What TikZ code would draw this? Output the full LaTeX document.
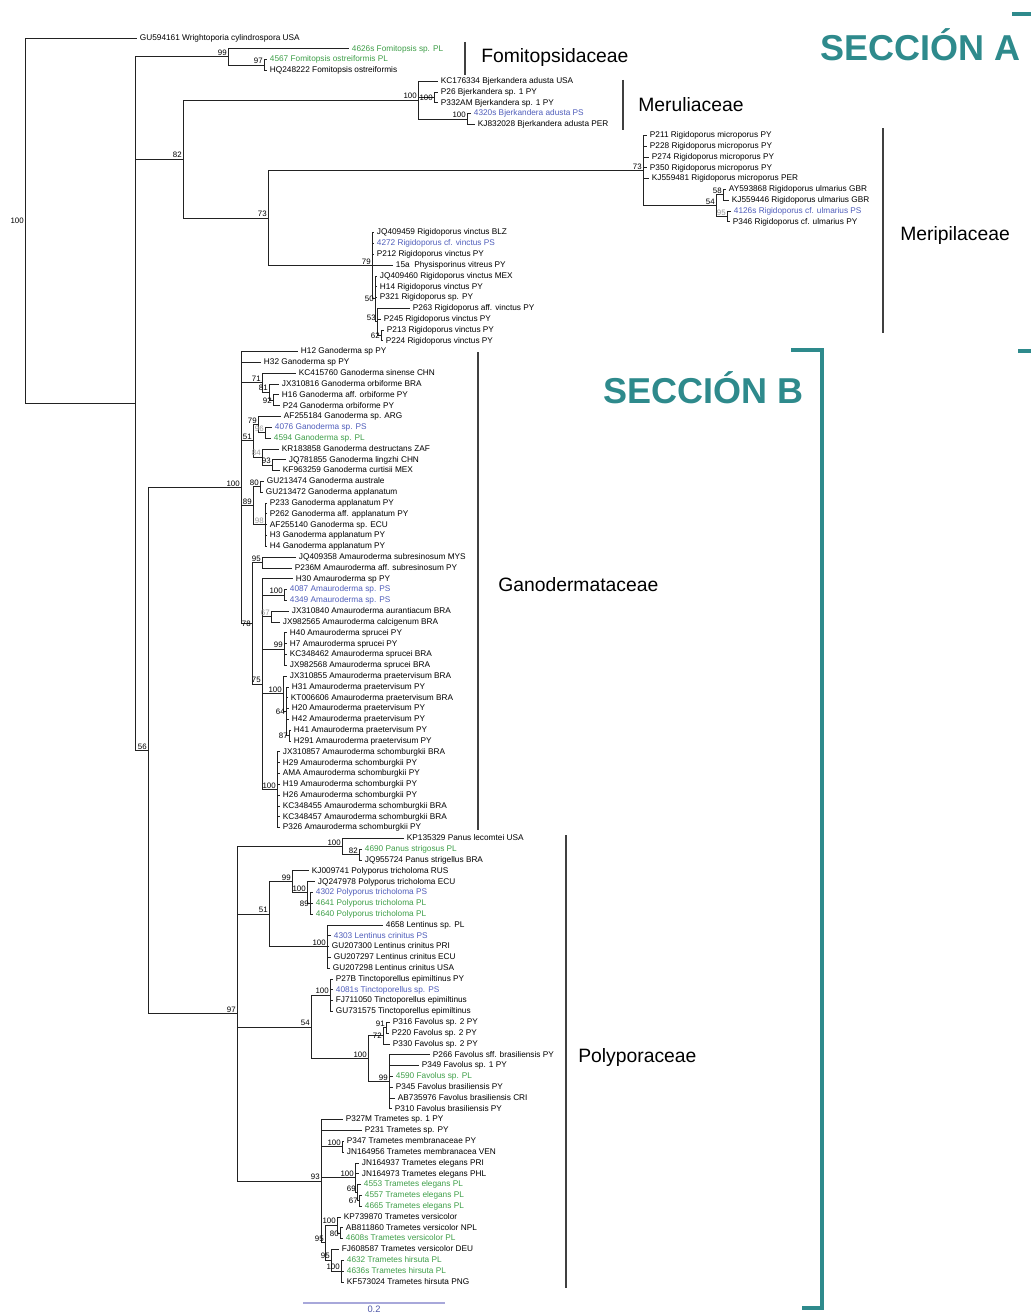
\documentclass[tikz,border=0pt]{standalone}
\usepackage{fontspec}
\setmainfont{Liberation Sans}
\usepackage{tikz}
\definecolor{seccteal}{HTML}{2E8A8C}
\definecolor{isoblue}{HTML}{4F5DBA}
\definecolor{isogreen}{HTML}{3E9E48}
\definecolor{branchgray}{HTML}{222222}
\definecolor{scalelav}{HTML}{A8A8DA}
\definecolor{scaletext}{HTML}{5058A8}

\begin{document}
\begin{tikzpicture}[x=0.75pt, y=-0.75pt,
          taxon/.style={anchor=west, inner xsep=2pt, inner ysep=0pt, text height=4.7pt,
                        text depth=1.3pt, font=\fontsize{6.2}{7}\selectfont},
          taxonPS/.style={taxon, text=isoblue},
          taxonPL/.style={taxon, text=isogreen},
          supp/.style={anchor=south east, inner sep=0.8pt, font=\fontsize{5.9}{6}\selectfont},
          suppl/.style={supp, anchor=east},
          suppg/.style={supp, text=black!40},
          branch/.style={draw=branchgray, line width=0.7pt},
          famline/.style={draw=black!75, line width=1.1pt},
          family/.style={anchor=west, inner sep=0pt, font=\fontsize{14.5}{16}\selectfont},
          seccion/.style={anchor=west, inner sep=0pt, text=seccteal,
                          font=\fontsize{27}{30}\selectfont\bfseries},
          secbar/.style={draw=seccteal, line width=3.5pt}
        ]
        \useasboundingbox (0,0) rectangle (1031,1313);

        \begin{scope}[y=-8.11275pt, yshift=-20.387pt]
        \node[taxon]   (L1)   at (137,1)   {GU594161 Wrightoporia cylindrospora USA};
        \node[taxonPL] (L2)   at (349,2)   {4626s Fomitopsis sp. PL};
        \node[taxonPL] (L3)   at (267,3)   {4567 Fomitopsis ostreiformis PL};
        \node[taxon]   (L4)   at (267,4)   {HQ248222 Fomitopsis ostreiformis};
        \node[taxon]   (L5)   at (438,5)   {KC176334 Bjerkandera adusta USA};
        \node[taxon]   (L6)   at (438,6)   {P26 Bjerkandera sp. 1 PY};
        \node[taxon]   (L7)   at (438,7)   {P332AM Bjerkandera sp. 1 PY};
        \node[taxonPS] (L8)   at (471,8)   {4320s Bjerkandera adusta PS};
        \node[taxon]   (L9)   at (475,9)   {KJ832028 Bjerkandera adusta PER};
        \node[taxon]   (L10)  at (647,10)  {P211 Rigidoporus microporus PY};
        \node[taxon]   (L11)  at (647,11)  {P228 Rigidoporus microporus PY};
        \node[taxon]   (L12)  at (649,12)  {P274 Rigidoporus microporus PY};
        \node[taxon]   (L13)  at (647,13)  {P350 Rigidoporus microporus PY};
        \node[taxon]   (L14)  at (649,14)  {KJ559481 Rigidoporus microporus PER};
        \node[taxon]   (L15)  at (726,15)  {AY593868 Rigidoporus ulmarius GBR};
        \node[taxon]   (L16)  at (729,16)  {KJ559446 Rigidoporus ulmarius GBR};
        \node[taxonPS] (L17)  at (731,17)  {4126s Rigidoporus cf. ulmarius PS};
        \node[taxon]   (L18)  at (730,18)  {P346 Rigidoporus cf. ulmarius PY};
        \node[taxon]   (L19)  at (374,19)  {JQ409459 Rigidoporus vinctus BLZ};
        \node[taxonPS] (L20)  at (374,20)  {4272 Rigidoporus cf. vinctus PS};
        \node[taxon]   (L21)  at (374,21)  {P212 Rigidoporus vinctus PY};
        \node[taxon]   (L22)  at (393,22)  {15a\ \ Physisporinus vitreus PY};
        \node[taxon]   (L23)  at (377,23)  {JQ409460 Rigidoporus vinctus MEX};
        \node[taxon]   (L24)  at (377,24)  {H14 Rigidoporus vinctus PY};
        \node[taxon]   (L25)  at (377,25)  {P321 Rigidoporus sp. PY};
        \node[taxon]   (L26)  at (410,26)  {P263 Rigidoporus aff. vinctus PY};
        \node[taxon]   (L27)  at (381,27)  {P245 Rigidoporus vinctus PY};
        \node[taxon]   (L28)  at (384,28)  {P213 Rigidoporus vinctus PY};
        \node[taxon]   (L29)  at (383,29)  {P224 Rigidoporus vinctus PY};
        \node[taxon]   (L30)  at (298,30)  {H12 Ganoderma sp PY};
        \node[taxon]   (L31)  at (261,31)  {H32 Ganoderma sp PY};
        \node[taxon]   (L32)  at (296,32)  {KC415760 Ganoderma sinense CHN};
        \node[taxon]   (L33)  at (279,33)  {JX310816 Ganoderma orbiforme BRA};
        \node[taxon]   (L34)  at (279,34)  {H16 Ganoderma aff. orbiforme PY};
        \node[taxon]   (L35)  at (280,35)  {P24 Ganoderma orbiforme PY};
        \node[taxon]   (L36)  at (281,36)  {AF255184 Ganoderma sp. ARG};
        \node[taxonPS] (L37)  at (272,37)  {4076 Ganoderma sp. PS};
        \node[taxonPL] (L38)  at (271,38)  {4594 Ganoderma sp. PL};
        \node[taxon]   (L39)  at (279,39)  {KR183858 Ganoderma destructans ZAF};
        \node[taxon]   (L40)  at (286,40)  {JQ781855 Ganoderma lingzhi CHN};
        \node[taxon]   (L41)  at (280,41)  {KF963259 Ganoderma curtisii MEX};
        \node[taxon]   (L42)  at (264,42)  {GU213474 Ganoderma australe};
        \node[taxon]   (L43)  at (263,43)  {GU213472 Ganoderma applanatum};
        \node[taxon]   (L44)  at (267,44)  {P233 Ganoderma applanatum PY};
        \node[taxon]   (L45)  at (267,45)  {P262 Ganoderma aff. applanatum PY};
        \node[taxon]   (L46)  at (267,46)  {AF255140 Ganoderma sp. ECU};
        \node[taxon]   (L47)  at (267,47)  {H3 Ganoderma applanatum PY};
        \node[taxon]   (L48)  at (267,48)  {H4 Ganoderma applanatum PY};
        \node[taxon]   (L49)  at (296,49)  {JQ409358 Amauroderma subresinosum MYS};
        \node[taxon]   (L50)  at (292,50)  {P236M Amauroderma aff. subresinosum PY};
        \node[taxon]   (L51)  at (293,51)  {H30 Amauroderma sp PY};
        \node[taxonPS] (L52)  at (287,52)  {4087 Amauroderma sp. PS};
        \node[taxonPS] (L53)  at (287,53)  {4349 Amauroderma sp. PS};
        \node[taxon]   (L54)  at (289,54)  {JX310840 Amauroderma aurantiacum BRA};
        \node[taxon]   (L55)  at (280,55)  {JX982565 Amauroderma calcigenum BRA};
        \node[taxon]   (L56)  at (287,56)  {H40 Amauroderma sprucei PY};
        \node[taxon]   (L57)  at (287,57)  {H7 Amauroderma sprucei PY};
        \node[taxon]   (L58)  at (287,58)  {KC348462 Amauroderma sprucei BRA};
        \node[taxon]   (L59)  at (287,59)  {JX982568 Amauroderma sprucei BRA};
        \node[taxon]   (L60)  at (287,60)  {JX310855 Amauroderma praetervisum BRA};
        \node[taxon]   (L61)  at (289,61)  {H31 Amauroderma praetervisum PY};
        \node[taxon]   (L62)  at (288,62)  {KT006606 Amauroderma praetervisum BRA};
        \node[taxon]   (L63)  at (289,63)  {H20 Amauroderma praetervisum PY};
        \node[taxon]   (L64)  at (289,64)  {H42 Amauroderma praetervisum PY};
        \node[taxon]   (L65)  at (291,65)  {H41 Amauroderma praetervisum PY};
        \node[taxon]   (L66)  at (291,66)  {H291 Amauroderma praetervisum PY};
        \node[taxon]   (L67)  at (280,67)  {JX310857 Amauroderma schomburgkii BRA};
        \node[taxon]   (L68)  at (280,68)  {H29 Amauroderma schomburgkii PY};
        \node[taxon]   (L69)  at (280,69)  {AMA Amauroderma schomburgkii PY};
        \node[taxon]   (L70)  at (280,70)  {H19 Amauroderma schomburgkii PY};
        \node[taxon]   (L71)  at (280,71)  {H26 Amauroderma schomburgkii PY};
        \node[taxon]   (L72)  at (280,72)  {KC348455 Amauroderma schomburgkii BRA};
        \node[taxon]   (L73)  at (280,73)  {KC348457 Amauroderma schomburgkii BRA};
        \node[taxon]   (L74)  at (280,74)  {P326 Amauroderma schomburgkii PY};
        \node[taxon]   (L75)  at (404,75)  {KP135329 Panus lecomtei USA};
        \node[taxonPL] (L76)  at (362,76)  {4690 Panus strigosus PL};
        \node[taxon]   (L77)  at (362,77)  {JQ955724 Panus strigellus BRA};
        \node[taxon]   (L78)  at (309,78)  {KJ009741 Polyporus tricholoma RUS};
        \node[taxon]   (L79)  at (315,79)  {JQ247978 Polyporus tricholoma ECU};
        \node[taxonPS] (L80)  at (313,80)  {4302 Polyporus tricholoma PS};
        \node[taxonPL] (L81)  at (313,81)  {4641 Polyporus tricholoma PL};
        \node[taxonPL] (L82)  at (313,82)  {4640 Polyporus tricholoma PL};
        \node[taxon]   (L83)  at (383,83)  {4658 Lentinus sp. PL};
        \node[taxonPS] (L84)  at (331,84)  {4303 Lentinus crinitus PS};
        \node[taxon]   (L85)  at (329,85)  {GU207300 Lentinus crinitus PRI};
        \node[taxon]   (L86)  at (331,86)  {GU207297 Lentinus crinitus ECU};
        \node[taxon]   (L87)  at (330,87)  {GU207298 Lentinus crinitus USA};
        \node[taxon]   (L88)  at (333,88)  {P27B Tinctoporellus epimiltinus PY};
        \node[taxonPS] (L89)  at (333,89)  {4081s Tinctoporellus sp. PS};
        \node[taxon]   (L90)  at (333,90)  {FJ711050 Tinctoporellus epimiltinus};
        \node[taxon]   (L91)  at (333,91)  {GU731575 Tinctoporellus epimiltinus};
        \node[taxon]   (L92)  at (390,92)  {P316 Favolus sp. 2 PY};
        \node[taxon]   (L93)  at (389,93)  {P220 Favolus sp. 2 PY};
        \node[taxon]   (L94)  at (390,94)  {P330 Favolus sp. 2 PY};
        \node[taxon]   (L95)  at (430,95)  {P266 Favolus sff. brasiliensis PY};
        \node[taxon]   (L96)  at (419,96)  {P349 Favolus sp. 1 PY};
        \node[taxonPL] (L97)  at (393,97)  {4590 Favolus sp. PL};
        \node[taxon]   (L98)  at (393,98)  {P345 Favolus brasiliensis PY};
        \node[taxon]   (L99)  at (395,99)  {AB735976 Favolus brasiliensis CRI};
        \node[taxon]   (L100) at (392,100) {P310 Favolus brasiliensis PY};
        \node[taxon]   (L101) at (343,101) {P327M Trametes sp. 1 PY};
        \node[taxon]   (L102) at (362,102) {P231 Trametes sp. PY};
        \node[taxon]   (L103) at (344,103) {P347 Trametes membranaceae PY};
        \node[taxon]   (L104) at (344,104) {JN164956 Trametes membranacea VEN};
        \node[taxon]   (L105) at (359,105) {JN164937 Trametes elegans PRI};
        \node[taxon]   (L106) at (359,106) {JN164973 Trametes elegans PHL};
        \node[taxonPL] (L107) at (361,107) {4553 Trametes elegans PL};
        \node[taxonPL] (L108) at (362,108) {4557 Trametes elegans PL};
        \node[taxonPL] (L109) at (362,109) {4665 Trametes elegans PL};
        \node[taxon]   (L110) at (341,110) {KP739870 Trametes versicolor};
        \node[taxon]   (L111) at (343,111) {AB811860 Trametes versicolor NPL};
        \node[taxonPL] (L112) at (343,112) {4608s Trametes versicolor PL};
        \node[taxon]   (L113) at (339,113) {FJ608587 Trametes versicolor DEU};
        \node[taxonPL] (L114) at (344,114) {4632 Trametes hirsuta PL};
        \node[taxonPL] (L115) at (344,115) {4636s Trametes hirsuta PL};
        \node[taxon]   (L116) at (344,116) {KF573024 Trametes hirsuta PNG};

        \coordinate (Root)    at (25,17.91);
        \coordinate (Nbase)   at (135,34.82);
        \coordinate (Fom99)   at (228,2.75);
        \coordinate (Fom97)   at (264,3.5);
        \coordinate (N82)     at (183,12.2);
        \coordinate (Mer100)  at (418,6.75);
        \coordinate (Bje100a) at (434,6.5);
        \coordinate (Bje100b) at (467,8.5);
        \coordinate (Mer73)   at (268,17.66);
        \coordinate (Mic73)   at (643,13.25);
        \coordinate (Ulm54)   at (716,16.5);
        \coordinate (Ulm58)   at (723,15.5);
        \coordinate (Ulm95)   at (727,17.5);
        \coordinate (Vin79)   at (372,22.06);
        \coordinate (Vin50)   at (375,25.125);
        \coordinate (Vin53)   at (377,27.25);
        \coordinate (Vin62)   at (381,28.5);
        \coordinate (N56)     at (148,66.89);
        \coordinate (Gan100)  at (241,42.56);
        \coordinate (Gan71)   at (262,32.875);
        \coordinate (Gan81)   at (269,33.75);
        \coordinate (Gan92)   at (273,34.5);
        \coordinate (Gan51)   at (253,38.25);
        \coordinate (Gan79)   at (258,36.75);
        \coordinate (Gan96)   at (265,37.5);
        \coordinate (Gan84)   at (262,39.75);
        \coordinate (Gan93)   at (272,40.5);
        \coordinate (Gan89)   at (253,44.25);
        \coordinate (Gan80)   at (260,42.5);
        \coordinate (Gan98)   at (265,46);
        \coordinate (Ama78)   at (252,55.125);
        \coordinate (Ama95)   at (262,49.5);
        \coordinate (Ama75)   at (262,60.75);
        \coordinate (Ama100a) at (284,52.5);
        \coordinate (Ama67)   at (271,54.5);
        \coordinate (Ama99)   at (284,57.5);
        \coordinate (Ama100b) at (283,61.625);
        \coordinate (Ama64)   at (286,63.25);
        \coordinate (Ama87)   at (289,65.5);
        \coordinate (Ama100c) at (277,70.5);
        \coordinate (Pol97)   at (237,91.22);
        \coordinate (Pan100)  at (342,75.75);
        \coordinate (Pan82)   at (359,76.5);
        \coordinate (Pol51)   at (269,82);
        \coordinate (Pol99)   at (292,79);
        \coordinate (Pol100)  at (307,80);
        \coordinate (Pol89)   at (310,81);
        \coordinate (Len100)  at (327,85);
        \coordinate (Pol54)   at (311,92.44);
        \coordinate (Tin100)  at (330,89.5);
        \coordinate (Fav100)  at (368,95.375);
        \coordinate (Fav72)   at (383,93.25);
        \coordinate (Fav91)   at (386,92.5);
        \coordinate (Fav99)   at (389,97.5);
        \coordinate (Tra93)   at (321,106.69);
        \coordinate (Tra100m) at (342,103.5);
        \coordinate (Tra100e) at (355,106.375);
        \coordinate (Tra69)   at (357,107.75);
        \coordinate (Tra67)   at (359,108.5);
        \coordinate (Tra95b)  at (325,112.375);
        \coordinate (Tra100v) at (337,110.75);
        \coordinate (Tra80)   at (340,111.5);
        \coordinate (Tra95c)  at (331,114);
        \coordinate (Tra100h) at (341,115);

        \draw[branch] (Root) |- (L1) (Root) |- (Nbase);
        \draw[branch] (Nbase) |- (Fom99) (Nbase) |- (N82) (Nbase) |- (N56);
        \draw[branch] (Fom99) |- (L2) (Fom99) |- (Fom97);
        \draw[branch] (Fom97) |- (L3) (Fom97) |- (L4);
        \draw[branch] (N82) |- (Mer100) (N82) |- (Mer73);
        \draw[branch] (Mer100) |- (L5) (Mer100) |- (Bje100a) (Mer100) |- (Bje100b);
        \draw[branch] (Bje100a) |- (L6) (Bje100a) |- (L7);
        \draw[branch] (Bje100b) |- (L8) (Bje100b) |- (L9);
        \draw[branch] (Mer73) |- (Mic73) (Mer73) |- (Vin79);
        \draw[branch] (Mic73) |- (L10) (Mic73) |- (L11) (Mic73) |- (L12) (Mic73) |- (L13)
                      (Mic73) |- (L14) (Mic73) |- (Ulm54);
        \draw[branch] (Ulm54) |- (Ulm58) (Ulm54) |- (Ulm95);
        \draw[branch] (Ulm58) |- (L15) (Ulm58) |- (L16);
        \draw[branch] (Ulm95) |- (L17) (Ulm95) |- (L18);
        \draw[branch] (Vin79) |- (L19) (Vin79) |- (L20) (Vin79) |- (L21) (Vin79) |- (L22)
                      (Vin79) |- (Vin50);
        \draw[branch] (Vin50) |- (L23) (Vin50) |- (L24) (Vin50) |- (L25) (Vin50) |- (Vin53);
        \draw[branch] (Vin53) |- (L26) (Vin53) |- (L27) (Vin53) |- (Vin62);
        \draw[branch] (Vin62) |- (L28) (Vin62) |- (L29);
        \draw[branch] (N56) |- (Gan100) (N56) |- (Pol97);
        \draw[branch] (Gan100) |- (L30) (Gan100) |- (L31) (Gan100) |- (Gan71) (Gan100) |- (Gan51)
                      (Gan100) |- (Gan89) (Gan100) |- (Ama78);
        \draw[branch] (Gan71) |- (L32) (Gan71) |- (Gan81);
        \draw[branch] (Gan81) |- (L33) (Gan81) |- (Gan92);
        \draw[branch] (Gan92) |- (L34) (Gan92) |- (L35);
        \draw[branch] (Gan51) |- (Gan79) (Gan51) |- (Gan84);
        \draw[branch] (Gan79) |- (L36) (Gan79) |- (Gan96);
        \draw[branch] (Gan96) |- (L37) (Gan96) |- (L38);
        \draw[branch] (Gan84) |- (L39) (Gan84) |- (Gan93);
        \draw[branch] (Gan93) |- (L40) (Gan93) |- (L41);
        \draw[branch] (Gan89) |- (Gan80) (Gan89) |- (Gan98);
        \draw[branch] (Gan80) |- (L42) (Gan80) |- (L43);
        \draw[branch] (Gan98) |- (L44) (Gan98) |- (L45) (Gan98) |- (L46) (Gan98) |- (L47)
                      (Gan98) |- (L48);
        \draw[branch] (Ama78) |- (Ama95) (Ama78) |- (Ama75);
        \draw[branch] (Ama95) |- (L49) (Ama95) |- (L50);
        \draw[branch] (Ama75) |- (L51) (Ama75) |- (Ama100a) (Ama75) |- (Ama67) (Ama75) |- (Ama99)
                      (Ama75) |- (Ama100b) (Ama75) |- (Ama100c);
        \draw[branch] (Ama100a) |- (L52) (Ama100a) |- (L53);
        \draw[branch] (Ama67) |- (L54) (Ama67) |- (L55);
        \draw[branch] (Ama99) |- (L56) (Ama99) |- (L57) (Ama99) |- (L58) (Ama99) |- (L59);
        \draw[branch] (Ama100b) |- (L60) (Ama100b) |- (Ama64);
        \draw[branch] (Ama64) |- (L61) (Ama64) |- (L62) (Ama64) |- (L63) (Ama64) |- (L64)
                      (Ama64) |- (Ama87);
        \draw[branch] (Ama87) |- (L65) (Ama87) |- (L66);
        \draw[branch] (Ama100c) |- (L67) (Ama100c) |- (L68) (Ama100c) |- (L69) (Ama100c) |- (L70)
                      (Ama100c) |- (L71) (Ama100c) |- (L72) (Ama100c) |- (L73) (Ama100c) |- (L74);
        \draw[branch] (Pol97) |- (Pan100) (Pol97) |- (Pol51) (Pol97) |- (Pol54) (Pol97) |- (Tra93);
        \draw[branch] (Pan100) |- (L75) (Pan100) |- (Pan82);
        \draw[branch] (Pan82) |- (L76) (Pan82) |- (L77);
        \draw[branch] (Pol51) |- (Pol99) (Pol51) |- (Len100);
        \draw[branch] (Pol99) |- (L78) (Pol99) |- (Pol100);
        \draw[branch] (Pol100) |- (L79) (Pol100) |- (Pol89);
        \draw[branch] (Pol89) |- (L80) (Pol89) |- (L81) (Pol89) |- (L82);
        \draw[branch] (Len100) |- (L83) (Len100) |- (L84) (Len100) |- (L85) (Len100) |- (L86)
                      (Len100) |- (L87);
        \draw[branch] (Pol54) |- (Tin100) (Pol54) |- (Fav100);
        \draw[branch] (Tin100) |- (L88) (Tin100) |- (L89) (Tin100) |- (L90) (Tin100) |- (L91);
        \draw[branch] (Fav100) |- (Fav72) (Fav100) |- (Fav99);
        \draw[branch] (Fav72) |- (Fav91) (Fav72) |- (L94);
        \draw[branch] (Fav91) |- (L92) (Fav91) |- (L93);
        \draw[branch] (Fav99) |- (L95) (Fav99) |- (L96) (Fav99) |- (L97) (Fav99) |- (L98)
                      (Fav99) |- (L99) (Fav99) |- (L100);
        \draw[branch] (Tra93) |- (L101) (Tra93) |- (L102) (Tra93) |- (Tra100m) (Tra93) |- (Tra100e)
                      (Tra93) |- (Tra95b);
        \draw[branch] (Tra100m) |- (L103) (Tra100m) |- (L104);
        \draw[branch] (Tra100e) |- (L105) (Tra100e) |- (L106) (Tra100e) |- (Tra69);
        \draw[branch] (Tra69) |- (L107) (Tra69) |- (Tra67);
        \draw[branch] (Tra67) |- (L108) (Tra67) |- (L109);
        \draw[branch] (Tra95b) |- (Tra100v) (Tra95b) |- (Tra95c);
        \draw[branch] (Tra100v) |- (L110) (Tra100v) |- (Tra80);
        \draw[branch] (Tra80) |- (L111) (Tra80) |- (L112);
        \draw[branch] (Tra95c) |- (L113) (Tra95c) |- (Tra100h);
        \draw[branch] (Tra100h) |- (L114) (Tra100h) |- (L115) (Tra100h) |- (L116);

        \node[suppl] (sRoot)    at (Root)    {100};
        \node[supp]  (sFom99)   at (Fom99)   {99};
        \node[supp]  (sFom97)   at (Fom97)   {97};
        \node[supp]  (sN82)     at (N82)     {82};
        \node[supp]  (sMer100)  at (Mer100)  {100};
        \node[suppl] (sBje100a) at (Bje100a) {100};
        \node[supp]  (sBje100b) at (Bje100b) {100};
        \node[supp]  (sMer73)   at (Mer73)   {73};
        \node[supp]  (sMic73)   at (Mic73)   {73};
        \node[supp]  (sUlm54)   at (Ulm54)   {54};
        \node[supp]  (sUlm58)   at (Ulm58)   {58};
        \node[suppg] (sUlm95)   at (Ulm95)   {95};
        \node[supp]  (sVin79)   at (Vin79)   {79};
        \node[suppl] (sVin50)   at (Vin50)   {50};
        \node[supp]  (sVin53)   at (Vin53)   {53};
        \node[suppl] (sVin62)   at (Vin62)   {62};
        \node[supp]  (sN56)     at (N56)     {56};
        \node[supp]  (sGan100)  at (Gan100)  {100};
        \node[supp]  (sGan71)   at (Gan71)   {71};
        \node[supp]  (sGan81)   at (Gan81)   {81};
        \node[suppl] (sGan92)   at (Gan92)   {92};
        \node[supp]  (sGan51)   at (Gan51)   {51};
        \node[supp]  (sGan79)   at (Gan79)   {79};
        \node[suppg] (sGan96)   at (Gan96)   {96};
        \node[suppg] (sGan84)   at (Gan84)   {84};
        \node[supp]  (sGan93)   at (Gan93)   {93};
        \node[supp]  (sGan89)   at (Gan89)   {89};
        \node[supp]  (sGan80)   at (Gan80)   {80};
        \node[suppg] (sGan98)   at (Gan98)   {98};
        \node[suppl] (sAma78)   at (Ama78)   {78};
        \node[supp]  (sAma95)   at (Ama95)   {95};
        \node[supp]  (sAma75)   at (Ama75)   {75};
        \node[supp]  (sAma100a) at (Ama100a) {100};
        \node[suppg] (sAma67)   at (Ama67)   {67};
        \node[supp]  (sAma99)   at (Ama99)   {99};
        \node[supp]  (sAma100b) at (Ama100b) {100};
        \node[suppl] (sAma64)   at (Ama64)   {64};
        \node[suppl] (sAma87)   at (Ama87)   {87};
        \node[supp]  (sAma100c) at (Ama100c) {100};
        \node[supp]  (sPol97)   at (Pol97)   {97};
        \node[supp]  (sPan100)  at (Pan100)  {100};
        \node[supp]  (sPan82)   at (Pan82)   {82};
        \node[supp]  (sPol51)   at (Pol51)   {51};
        \node[supp]  (sPol99)   at (Pol99)   {99};
        \node[supp]  (sPol100)  at (Pol100)  {100};
        \node[suppl] (sPol89)   at (Pol89)   {89};
        \node[supp]  (sLen100)  at (Len100)  {100};
        \node[supp]  (sPol54)   at (Pol54)   {54};
        \node[supp]  (sTin100)  at (Tin100)  {100};
        \node[supp]  (sFav100)  at (Fav100)  {100};
        \node[suppl] (sFav72)   at (Fav72)   {72};
        \node[supp]  (sFav91)   at (Fav91)   {91};
        \node[supp]  (sFav99)   at (Fav99)   {99};
        \node[supp]  (sTra93)   at (Tra93)   {93};
        \node[supp]  (sTra100m) at (Tra100m) {100};
        \node[supp]  (sTra100e) at (Tra100e) {100};
        \node[supp]  (sTra69)   at (Tra69)   {69};
        \node[suppl] (sTra67)   at (Tra67)   {67};
        \node[supp]  (sTra95b)  at (Tra95b)  {95};
        \node[supp]  (sTra100v) at (Tra100v) {100};
        \node[suppl] (sTra80)   at (Tra80)   {80};
        \node[supp]  (sTra95c)  at (Tra95c)  {95};
        \node[supp]  (sTra100h) at (Tra100h) {100};
        \end{scope}

        \draw[famline] (465,42) -- (465,75);
        \node[family] (fFomi) at (481,58)   {Fomitopsidaceae};
        \draw[famline] (623,80) -- (623,130);
        \node[family] (fMeru) at (638,105)  {Meruliaceae};
        \draw[famline] (883,128) -- (883,333);
        \node[family] (fMeri) at (900,235)  {Meripilaceae};
        \draw[famline] (478,352) -- (478,830);
        \node[family] (fGano) at (498,585)  {Ganodermataceae};
        \draw[famline] (566,835) -- (566,1288);
        \node[family] (fPoly) at (578,1057) {Polyporaceae};

        \node[seccion] (secA) at (820,45)  {SECCIÓN A};
        \node[seccion] (secB) at (603,388) {SECCIÓN B};
        \draw[secbar] (1012,14) -- (1031,14);
        \draw[secbar] (1018,351) -- (1031,351);
        \draw[secbar] (791,350) -- (822,350) -- (822,1308) -- (802,1308);

        \draw[draw=scalelav, line width=1.2pt] (303,1303) -- (445,1303);
        \node[anchor=north, inner sep=0.5pt, text=scaletext, font=\fontsize{7}{8}\selectfont]
             (scale) at (374,1305) {0.2};
      \end{tikzpicture}
\end{document}
